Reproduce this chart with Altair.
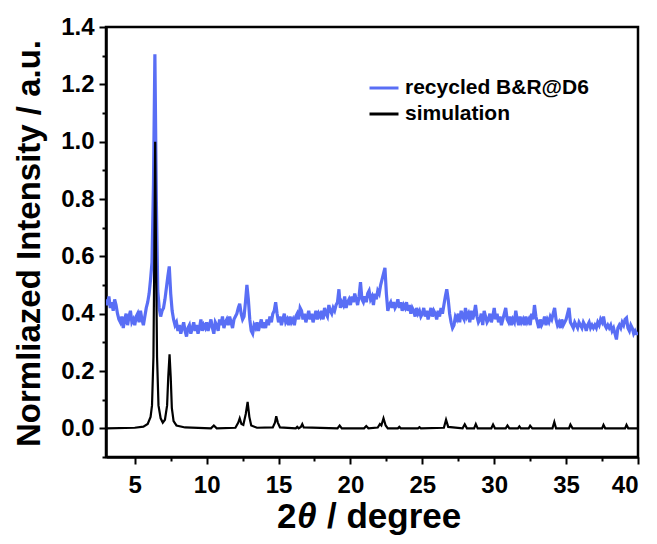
import altair as alt
import pandas as pd

# ---- data ----
# recycled B&R@D6: intensities sampled every 0.1 degree from 3.0 to 40.0
blue_start = 3.0
blue_step = 0.1
blue_y = [
    0.45, 0.43, 0.46, 0.42, 0.44, 0.41, 0.45, 0.43, 0.40, 0.38,   # 3
    0.37, 0.39, 0.35, 0.38, 0.40, 0.36, 0.39, 0.41, 0.37, 0.38,   # 4
    0.36, 0.39, 0.40, 0.37, 0.41, 0.38, 0.36, 0.39, 0.42, 0.44,   # 5
    0.47, 0.52, 0.58, 0.85, 1.305, 0.80, 0.48, 0.42, 0.39, 0.41,  # 6
    0.42, 0.45, 0.49, 0.53, 0.565, 0.47, 0.41, 0.38, 0.36, 0.37,  # 7
    0.34, 0.36, 0.33, 0.35, 0.37, 0.34, 0.32, 0.35, 0.36, 0.33,   # 8
    0.35, 0.37, 0.34, 0.36, 0.33, 0.35, 0.38, 0.34, 0.36, 0.35,   # 9
    0.37, 0.34, 0.36, 0.38, 0.35, 0.33, 0.37, 0.36, 0.34, 0.38,   # 10
    0.36, 0.39, 0.35, 0.37, 0.38, 0.36, 0.39, 0.37, 0.35, 0.38,   # 11
    0.39, 0.40, 0.42, 0.435, 0.40, 0.38, 0.39, 0.44, 0.50, 0.45,  # 12
    0.38, 0.34, 0.33, 0.36, 0.35, 0.37, 0.34, 0.36, 0.38, 0.35,   # 13
    0.37, 0.35, 0.38, 0.36, 0.39, 0.37, 0.40, 0.41, 0.44, 0.40,   # 14
    0.37, 0.39, 0.36, 0.38, 0.40, 0.37, 0.38, 0.36, 0.39, 0.37,   # 15
    0.38, 0.36, 0.39, 0.40, 0.38, 0.42, 0.41, 0.38, 0.40, 0.37,   # 16
    0.39, 0.41, 0.38, 0.40, 0.37, 0.39, 0.41, 0.38, 0.40, 0.39,   # 17
    0.41, 0.38, 0.42, 0.40, 0.39, 0.43, 0.41, 0.40, 0.42, 0.41,   # 18
    0.43, 0.44, 0.485, 0.42, 0.44, 0.43, 0.46, 0.42, 0.44, 0.45,  # 19
    0.43, 0.46, 0.44, 0.47, 0.45, 0.43, 0.46, 0.51, 0.45, 0.44,   # 20
    0.46, 0.44, 0.47, 0.48, 0.45, 0.46, 0.43, 0.47, 0.45, 0.48,   # 21
    0.47, 0.50, 0.52, 0.54, 0.56, 0.47, 0.41, 0.43, 0.44, 0.42,   # 22
    0.44, 0.42, 0.43, 0.45, 0.42, 0.44, 0.41, 0.43, 0.42, 0.44,   # 23
    0.41, 0.43, 0.40, 0.42, 0.41, 0.39, 0.42, 0.40, 0.41, 0.39,   # 24
    0.40, 0.42, 0.39, 0.41, 0.38, 0.40, 0.42, 0.39, 0.41, 0.40,   # 25
    0.38, 0.41, 0.39, 0.42, 0.40, 0.43, 0.46, 0.485, 0.45, 0.40,  # 26
    0.37, 0.35, 0.36, 0.39, 0.38, 0.40, 0.37, 0.41, 0.39, 0.38,   # 27
    0.42, 0.39, 0.40, 0.37, 0.41, 0.38, 0.40, 0.43, 0.39, 0.37,   # 28
    0.38, 0.40, 0.36, 0.41, 0.39, 0.37, 0.38, 0.40, 0.37, 0.39,   # 29
    0.42, 0.38, 0.40, 0.37, 0.39, 0.36, 0.38, 0.40, 0.42, 0.38,   # 30
    0.37, 0.39, 0.36, 0.38, 0.37, 0.41, 0.38, 0.36, 0.39, 0.37,   # 31
    0.38, 0.36, 0.39, 0.37, 0.38, 0.36, 0.40, 0.38, 0.43, 0.39,   # 32
    0.37, 0.35, 0.38, 0.36, 0.37, 0.39, 0.36, 0.38, 0.37, 0.39,   # 33
    0.38, 0.40, 0.42, 0.38, 0.36, 0.37, 0.35, 0.38, 0.36, 0.37,   # 34
    0.38, 0.40, 0.42, 0.37, 0.36, 0.35, 0.37, 0.36, 0.35, 0.37,   # 35
    0.36, 0.35, 0.37, 0.36, 0.34, 0.36, 0.37, 0.35, 0.36, 0.35,   # 36
    0.36, 0.35, 0.37, 0.36, 0.38, 0.37, 0.39, 0.36, 0.35, 0.36,   # 37
    0.35, 0.36, 0.34, 0.35, 0.33, 0.31, 0.35, 0.36, 0.35, 0.37,   # 38
    0.36, 0.38, 0.385, 0.35, 0.34, 0.36, 0.35, 0.33, 0.34, 0.33,  # 39
    0.33,                                                         # 40
]

# simulation: hand-read profile points (2theta, intensity)
sim_x = [3.0, 5.0, 5.6, 5.9, 6.1, 6.2, 6.3, 6.36, 6.42, 6.48, 6.55, 6.65, 6.8, 6.95,
         7.1, 7.25, 7.33, 7.42, 7.5, 7.58, 7.7, 7.9, 8.5,
         10.3, 10.5, 10.7, 12.0, 12.2, 12.3, 12.42, 12.55, 12.72, 12.85, 12.97, 13.1, 13.5,
         14.6, 14.75, 14.84, 14.95, 15.1, 16.2, 16.3, 16.4, 16.55, 16.65, 16.75,
         19.1, 19.25, 19.4, 20.95, 21.1, 21.25, 21.9, 22.05, 22.15, 22.3, 22.45, 22.6,
         23.3, 23.4, 23.5, 24.7, 24.8, 24.9, 26.5, 26.65, 26.8,
         27.8, 27.95, 28.1, 28.6, 28.72, 28.85, 29.8, 29.92, 30.05, 30.8, 30.92, 31.05,
         31.65, 31.75, 31.85, 32.4, 32.5, 32.65, 34.05, 34.18, 34.3, 35.2, 35.3, 35.45,
         37.5, 37.6, 37.72, 39.1, 39.2, 39.32, 40.0]
sim_y = [0.0, 0.002, 0.006, 0.015, 0.04, 0.08, 0.25, 0.6, 1.0, 0.6, 0.25, 0.08, 0.035, 0.02,
         0.03, 0.08, 0.18, 0.258, 0.18, 0.07, 0.025, 0.01, 0.003,
         0.0, 0.01, 0.0, 0.002, 0.02, 0.035, 0.015, 0.012, 0.05, 0.092, 0.04, 0.01, 0.002,
         0.003, 0.02, 0.042, 0.02, 0.003, 0.0, 0.005, 0.0, 0.005, 0.015, 0.003,
         0.0, 0.01, 0.0, 0.0, 0.008, 0.0, 0.003, 0.015, 0.01, 0.035, 0.01, 0.0,
         0.0, 0.005, 0.0, 0.0, 0.004, 0.0, 0.002, 0.03, 0.005,
         0.0, 0.014, 0.0, 0.0, 0.015, 0.0, 0.0, 0.013, 0.0, 0.0, 0.01, 0.0,
         0.0, 0.007, 0.0, 0.0, 0.009, 0.0, 0.0, 0.022, 0.0, 0.0, 0.013, 0.0,
         0.0, 0.012, 0.0, 0.0, 0.012, 0.0, 0.0]

series_names = ["recycled B&R@D6", "simulation"]
series_colors = ["#596ef5", "#000000"]

x_ticks = [5, 7.5, 10, 12.5, 15, 17.5, 20, 22.5, 25, 27.5, 30, 32.5, 35, 37.5, 40]
y_ticks = [-0.1, 0.0, 0.1, 0.2, 0.3, 0.4, 0.5, 0.6, 0.7, 0.8, 0.9, 1.0, 1.1, 1.2, 1.3, 1.4]

# x-axis title pieces: "2" upright, "θ" italic, "/ degree" upright
xtitle_parts = ["2", "θ", "/ degree"]

# ---- tables ----
blue_x = [round(blue_start + i * blue_step, 1) for i in range(len(blue_y))]
df_blue = pd.DataFrame({"x": blue_x, "y": blue_y, "series": series_names[0]})
df_sim = pd.DataFrame({"x": sim_x, "y": sim_y, "series": series_names[1]})

FONT = "Liberation Sans"
W, H = 532, 430

xaxis = alt.Axis(
    values=x_ticks,
    labelExpr="datum.value % 5 == 0 ? format(datum.value, 'd') : ''",
    tickSize={"condition": {"test": "datum.value % 5 == 0", "value": 7}, "value": 4},
    title=None,
    labelPadding=9,
    grid=False,
)
yaxis = alt.Axis(
    values=y_ticks,
    labelExpr="abs(round(datum.value * 10)) % 2 == 0 ? format(datum.value, '.1f') : ''",
    tickSize={"condition": {"test": "abs(round(datum.value * 10)) % 2 == 0", "value": 7},
              "value": 4},
    title="Normliazed Intensity / a.u.",
    titleFontSize=33,
    titleX=-77,
    titleY=216,
    titleAngle=-90,
    titleAlign="center",
    titleBaseline="middle",
    labelPadding=5,
    grid=False,
)

color = alt.Color(
    "series:N",
    scale=alt.Scale(domain=series_names, range=series_colors),
    legend=alt.Legend(
        title=None,
        orient="none",
        legendX=262,
        legendY=45,
        symbolType="stroke",
        symbolSize=841,
        symbolStrokeWidth=3,
        labelFont=FONT,
        labelFontWeight="bold",
        labelFontSize=21,
        labelColor="black",
        labelOffset=5,
        labelLimit=0,
        rowPadding=0,
        padding=0,
    ),
)

x_enc = alt.X("x:Q", scale=alt.Scale(domain=[3, 40], nice=False, zero=False), axis=xaxis)
y_enc = alt.Y("y:Q", scale=alt.Scale(domain=[-0.1, 1.4], nice=False, zero=False), axis=yaxis)

blue = alt.Chart(df_blue).mark_line(strokeWidth=3.2, clip=True).encode(
    x=x_enc, y=y_enc, color=color, order="x:Q"
)
sim = alt.Chart(df_sim).mark_line(strokeWidth=2.2, clip=True).encode(
    x=x_enc, y=y_enc, color=color, order="x:Q"
)

# x-axis title drawn as three text pieces so that θ can be italic
TITLE_SIZE = 35
TITLE_BASE = H + 71
t1 = alt.Chart(pd.DataFrame({"t": [xtitle_parts[0]]})).mark_text(
    font=FONT, fontWeight="bold", fontSize=TITLE_SIZE, align="left", baseline="alphabetic",
    color="black",
).encode(text="t:N", x=alt.value(171), y=alt.value(TITLE_BASE))
t2 = alt.Chart(pd.DataFrame({"t": [xtitle_parts[1]]})).mark_text(
    font=FONT, fontWeight="bold", fontStyle="italic", fontSize=TITLE_SIZE, align="left",
    baseline="alphabetic", color="black",
).encode(text="t:N", x=alt.value(191), y=alt.value(TITLE_BASE))
t3 = alt.Chart(pd.DataFrame({"t": [xtitle_parts[2]]})).mark_text(
    font=FONT, fontWeight="bold", fontSize=TITLE_SIZE, align="left", baseline="alphabetic",
    color="black",
).encode(text="t:N", x=alt.value(221), y=alt.value(TITLE_BASE))

chart = (
    alt.layer(blue, sim, t1, t2, t3)
    .properties(
        width=W,
        height=H,
        autosize=alt.AutoSizeParams(type="none"),
        padding={"left": 98, "top": 19, "right": 11, "bottom": 79},
    )
    .configure_view(stroke="black", strokeWidth=2.5)
    .configure_axis(
        domainColor="black",
        domainWidth=2.5,
        tickColor="black",
        tickWidth=2,
        labelFont=FONT,
        labelFontWeight="bold",
        labelFontSize=24,
        labelColor="black",
        titleFont=FONT,
        titleFontWeight="bold",
        titleColor="black",
    )
)

chart.save("out.html", embed_options={"renderer": "svg", "actions": False})
